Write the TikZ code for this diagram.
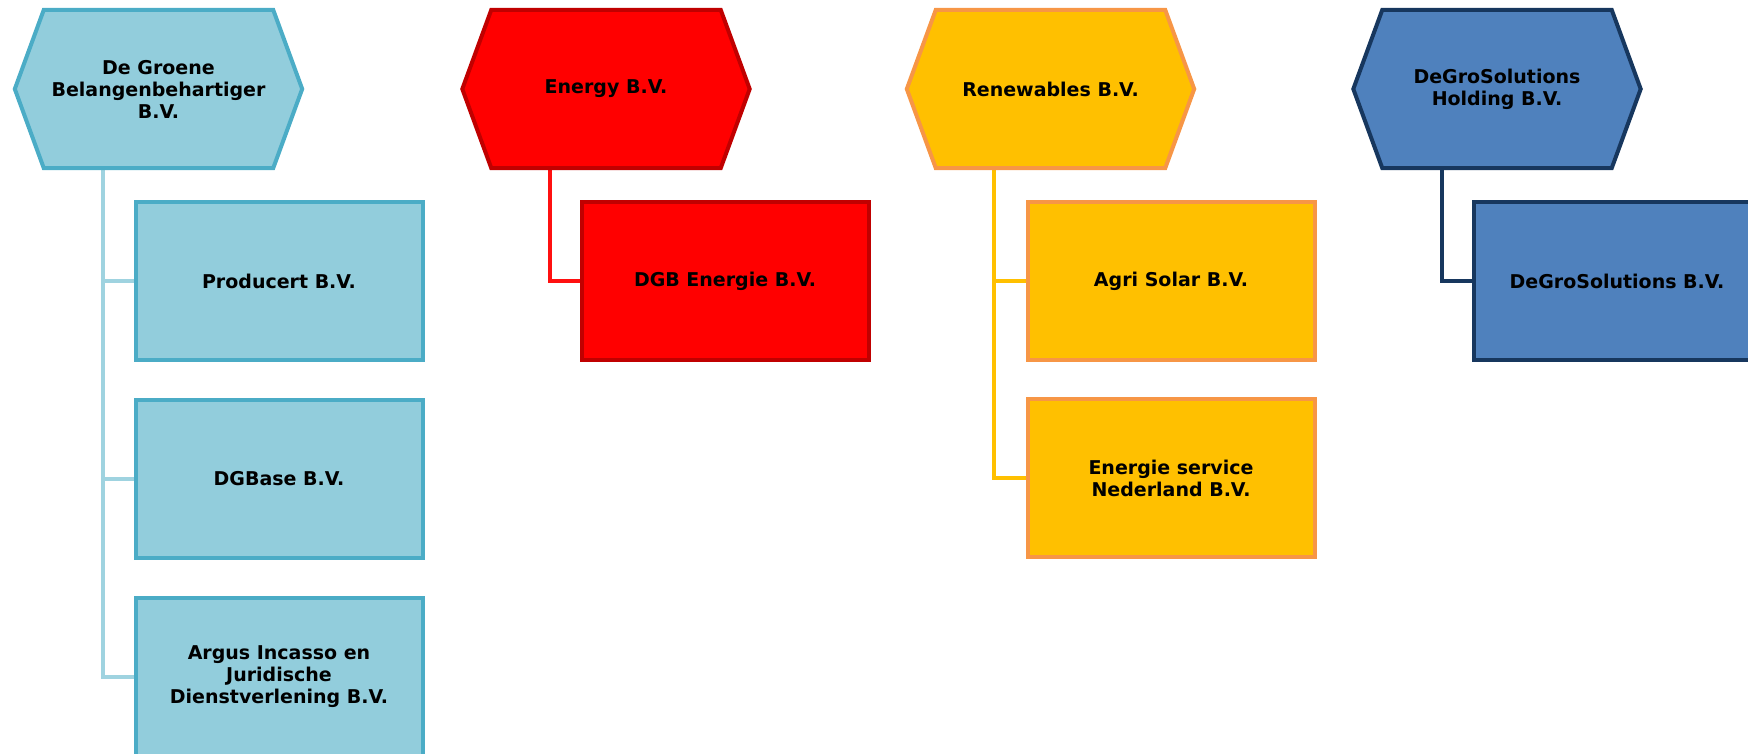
\documentclass[tikz,border=0pt]{standalone}
\usepackage{fontspec}
\setmainfont{DejaVu Sans}
\usetikzlibrary{calc,backgrounds}
\definecolor{aquaF}{HTML}{92CDDC}
\definecolor{aquaD}{HTML}{4BACC6}
\definecolor{aquaL}{HTML}{9FD3E0}
\definecolor{redF}{HTML}{FF0000}
\definecolor{redD}{HTML}{C00000}
\definecolor{redL}{HTML}{FF1010}
\definecolor{goldF}{HTML}{FFC000}
\definecolor{goldD}{HTML}{F79646}
\definecolor{goldL}{HTML}{FFC000}
\definecolor{blueF}{HTML}{4F81BD}
\definecolor{blueD}{HTML}{17375E}
\definecolor{blueL}{HTML}{17375E}
\begin{document}
\begin{tikzpicture}[x=1pt,y=-1pt,
  txt/.style={font=\fontsize{19}{22}\selectfont\bfseries, align=center, text=black},
  hexcore/.style={txt, minimum width=229pt, minimum height=158pt, inner sep=0pt},
  boxnode/.style={txt, draw, line width=4pt, minimum width=287pt, minimum height=158pt, inner sep=0pt},
  hexpath/.style={line width=4pt, line join=miter},
  conn/.style={line width=4.5pt}]
\clip (0,0) rectangle (1748,754);
\useasboundingbox (0,0) rectangle (1748,754);

% column 1
\node[hexcore] (h1) at (158.5,89) {De Groene\\Belangenbehartiger\\B.V.};
\node[boxnode, draw=aquaD, fill=aquaF] (c11) at (279,281) {Producert B.V.};
\node[boxnode, draw=aquaD, fill=aquaF] (c12) at (279,479) {DGBase B.V.};
\node[boxnode, draw=aquaD, fill=aquaF] (c13) at (279,677) {Argus Incasso en\\Juridische\\Dienstverlening B.V.};

% column 2
\node[hexcore] (h2) at (606,89) {Energy B.V.};
\node[boxnode, draw=redD, fill=redF] (c21) at (725,281) {DGB Energie B.V.};

% column 3
\node[hexcore] (h3) at (1050.5,89) {Renewables B.V.};
\node[boxnode, draw=goldD, fill=goldF] (c31) at (1171,281) {Agri Solar B.V.};
\node[boxnode, draw=goldD, fill=goldF] (c32) at (1171,478) {Energie service\\Nederland B.V.};

% column 4
\node[hexcore] (h4) at (1497,89) {DeGroSolutions\\Holding B.V.};
\node[boxnode, draw=blueD, fill=blueF] (c41) at (1617,281) {DeGroSolutions B.V.};

\begin{pgfonlayer}{background}
  % connectors
  \draw[conn, aquaL] ([xshift=-55.5pt]h1.south) |- (c13.west);
  \draw[conn, aquaL] ([xshift=-55.5pt]h1.south |- c11.west) -- (c11.west);
  \draw[conn, aquaL] ([xshift=-55.5pt]h1.south |- c12.west) -- (c12.west);
  \draw[conn, redL] ([xshift=-56pt]h2.south) |- (c21.west);
  \draw[conn, goldL] ([xshift=-56.5pt]h3.south) |- (c32.west);
  \draw[conn, goldL] ([xshift=-56.5pt]h3.south |- c31.west) -- (c31.west);
  \draw[conn, blueL] ([xshift=-55pt]h4.south) |- (c41.west);
  % hexagons
  \foreach \h/\fc/\dc in {h1/aquaF/aquaD, h2/redF/redD, h3/goldF/goldD, h4/blueF/blueD}{
    \draw[hexpath, draw=\dc, fill=\fc] (\h.north west) -- (\h.north east)
      -- ($(\h.east)+(29,0)$) -- (\h.south east) -- (\h.south west)
      -- ($(\h.west)-(29,0)$) -- cycle;
  }
\end{pgfonlayer}
\end{tikzpicture}
\end{document}
